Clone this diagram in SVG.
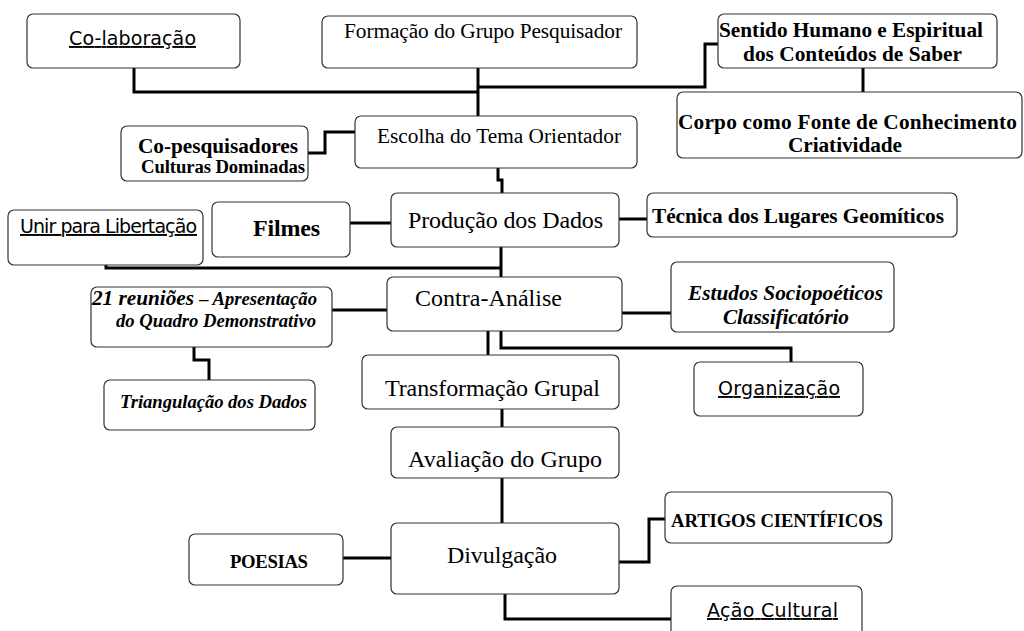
<svg xmlns="http://www.w3.org/2000/svg" width="1024" height="631" viewBox="0 0 1024 631">
<style>
.b{fill:#fff;stroke:#333;stroke-width:1.2}
.c{fill:none;stroke:#000;stroke-width:3}
.t{font-family:"Liberation Serif","Times New Roman",serif;font-size:24px;fill:#000}
.tm{font-family:"Liberation Serif","Times New Roman",serif;font-size:21.3px;fill:#000}
.tb{font-family:"Liberation Serif","Times New Roman",serif;font-weight:bold;font-size:21.3px;fill:#000}
.ts{font-family:"Liberation Serif","Times New Roman",serif;font-weight:bold;font-size:18.7px;fill:#000}
.ti{font-family:"Liberation Serif","Times New Roman",serif;font-weight:bold;font-style:italic;font-size:21.3px;fill:#000}
.tis{font-family:"Liberation Serif","Times New Roman",serif;font-weight:bold;font-style:italic;font-size:18.7px;fill:#000}
.cm{font-family:"DejaVu Sans","Noto Sans",sans-serif;font-size:19px;fill:#000;text-decoration:underline}
</style>
<g id="connectors">
<path class="c" d="M134 68V92H478"/>
<path class="c" d="M478 68V116"/>
<path class="c" d="M478 87H705V44H718"/>
<path class="c" d="M863 68V92"/>
<path class="c" d="M308 153H325V132H355"/>
<path class="c" d="M498 168V180H502V193"/>
<path class="c" d="M350 223H391"/>
<path class="c" d="M619 219H647"/>
<path class="c" d="M106 265V268H501"/>
<path class="c" d="M501 247V277"/>
<path class="c" d="M332 310H387"/>
<path class="c" d="M622 313H671"/>
<path class="c" d="M488 331V355"/>
<path class="c" d="M501 331V348H791V362"/>
<path class="c" d="M194 347V360H209V380"/>
<path class="c" d="M502 409V427"/>
<path class="c" d="M502 478V523"/>
<path class="c" d="M343 558H391"/>
<path class="c" d="M619 562H649V519H665"/>
<path class="c" d="M505 594V619H671"/>
</g>
<g id="colaboracao"><rect class="b" x="27" y="14" width="213" height="54" rx="6"/><text class="cm" x="69" y="45" textLength="127">Co-laboração</text></g>
<g id="formacao"><rect class="b" x="322" y="16" width="315" height="52" rx="6"/><text class="tm" x="344" y="38" textLength="278">Formação do Grupo Pesquisador</text></g>
<g id="sentido"><rect class="b" x="718" y="14" width="279" height="54" rx="6"/><text class="tb" x="719" y="37" textLength="264">Sentido Humano e Espiritual</text><text class="tb" x="743" y="61" textLength="219">dos Conteúdos de Saber</text></g>
<g id="corpo"><rect class="b" x="677" y="92" width="345" height="66" rx="6"/><text class="tb" x="678" y="129" textLength="339">Corpo como Fonte de Conhecimento</text><text class="tb" x="788" y="152" textLength="114">Criatividade</text></g>
<g id="escolha"><rect class="b" x="355" y="116" width="282" height="52" rx="6"/><text class="tm" x="377" y="143" textLength="244">Escolha do Tema Orientador</text></g>
<g id="copesquisadores"><rect class="b" x="121" y="126" width="187" height="55" rx="6"/><text class="tb" x="138" y="153" textLength="160">Co-pesquisadores</text><text class="ts" x="141" y="173" textLength="164">Culturas Dominadas</text></g>
<g id="producao"><rect class="b" x="391" y="193" width="228" height="54" rx="6"/><text class="t" x="408" y="228" textLength="195">Produção dos Dados</text></g>
<g id="filmes"><rect class="b" x="212" y="202" width="138" height="55" rx="6"/><text class="tb" x="253" y="236" style="font-size:24px" textLength="67">Filmes</text></g>
<g id="unir"><rect class="b" x="8" y="210" width="195" height="55" rx="6"/><text class="cm" x="20" y="233" textLength="177">Unir para Libertação</text></g>
<g id="tecnica"><rect class="b" x="647" y="193" width="310" height="44" rx="6"/><text class="tb" x="652" y="223" textLength="292">Técnica dos Lugares Geomíticos</text></g>
<g id="contra"><rect class="b" x="387" y="277" width="235" height="54" rx="6"/><text class="t" x="415" y="306" textLength="147">Contra-Análise</text></g>
<g id="reunioes"><rect class="b" x="91" y="287" width="241" height="60" rx="6"/><text class="ti" x="92" y="305" textLength="225">21 reuniões <tspan style="font-size:18.7px">– Apresentação</tspan></text><text class="tis" x="116" y="327" textLength="200">do Quadro Demonstrativo</text></g>
<g id="estudos"><rect class="b" x="671" y="262" width="223" height="70" rx="6"/><text class="ti" x="688" y="300" textLength="195">Estudos Sociopoéticos</text><text class="ti" x="723" y="324" textLength="126">Classificatório</text></g>
<g id="organizacao"><rect class="b" x="694" y="362" width="169" height="54" rx="6"/><text class="cm" x="718" y="395" textLength="122">Organização</text></g>
<g id="triangulacao"><rect class="b" x="104" y="380" width="211" height="50" rx="6"/><text class="tis" x="120" y="408" textLength="187">Triangulação dos Dados</text></g>
<g id="transformacao"><rect class="b" x="362" y="355" width="257" height="54" rx="6"/><text class="t" x="385" y="396" textLength="215">Transformação Grupal</text></g>
<g id="avaliacao"><rect class="b" x="391" y="427" width="228" height="51" rx="6"/><text class="t" x="408" y="467" textLength="194">Avaliação do Grupo</text></g>
<g id="divulgacao"><rect class="b" x="391" y="523" width="228" height="71" rx="6"/><text class="t" x="447" y="563" textLength="110">Divulgação</text></g>
<g id="poesias"><rect class="b" x="189" y="534" width="154" height="51" rx="6"/><text class="ts" x="230" y="568" textLength="78">POESIAS</text></g>
<g id="artigos"><rect class="b" x="665" y="492" width="227" height="51" rx="6"/><text class="ts" x="671" y="527" textLength="212">ARTIGOS CIENTÍFICOS</text></g>
<g id="acao"><rect class="b" x="671" y="586" width="191" height="60" rx="6"/><text class="cm" x="707" y="617" textLength="131">Ação Cultural</text></g>
</svg>
